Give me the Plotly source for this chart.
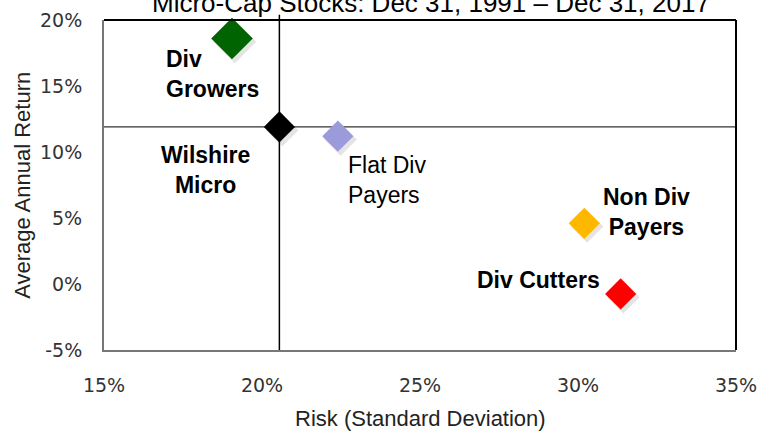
import plotly.graph_objects as go

# ---- data ----
names = ["Div Growers", "Wilshire Micro", "Flat Div Payers", "Non Div Payers", "Div Cutters"]
label_text = ["Div<br>Growers", "Wilshire<br>Micro", "Flat Div<br>Payers", "Non Div<br>Payers", "Div Cutters"]
risk = [19.05, 20.55, 22.4, 30.2, 31.35]          # % std dev
ret = [18.6, 11.9, 11.2, 4.6, -0.75]               # % average annual return
colors = ["#006400", "#000000", "#9B9BDB", "#FFB800", "#FF0000"]
sizes = [32, 24, 24, 24, 24]
x_ticks = [15, 20, 25, 30, 35]
y_ticks = [-5, 0, 5, 10, 15, 20]
title_text = "Micro-Cap Stocks: Dec 31, 1991 \u2013 Dec 31, 2017"

# label styling (pixel offsets from each point)
lab_bold = [True, True, False, True, True]
lab_xshift = [-68, -74, 8, 62, -82]
lab_yshift = [-36, -43, -44, 11, 14]
lab_xanchor = ["left", "center", "left", "center", "center"]
lab_align = ["left", "center", "left", "center", "center"]

bench = names.index("Wilshire Micro")

fig = go.Figure()

# soft shadows via slightly shifted overlay axes (x2/y2)
fig.add_trace(go.Scatter(
    x=risk, y=ret, mode="markers", xaxis="x2", yaxis="y2",
    marker=dict(symbol="diamond", size=[s + 1 for s in sizes], color="rgba(0,0,0,0.15)", line=dict(width=0)),
    hoverinfo="skip", showlegend=False, cliponaxis=False))

# main markers on unshifted overlay axes (x3/y3), drawn above shadows
fig.add_trace(go.Scatter(
    x=risk, y=ret, mode="markers", text=names, xaxis="x3", yaxis="y3", opacity=1,
    marker=dict(symbol="diamond", size=sizes, color=colors, opacity=1, line=dict(width=0)),
    showlegend=False, cliponaxis=False))

# reference lines through benchmark
fig.add_shape(type="line", xref="x", yref="paper", x0=risk[bench], x1=risk[bench], y0=0, y1=1.016,
              line=dict(color="black", width=1.5), layer="below")
fig.add_shape(type="line", xref="paper", yref="y", x0=0, x1=1, y0=ret[bench], y1=ret[bench],
              line=dict(color="#333333", width=1.2), layer="below")
# top/right frame
fig.add_shape(type="line", xref="paper", yref="paper", x0=0, x1=1, y0=1, y1=1,
              line=dict(color="black", width=2))
fig.add_shape(type="line", xref="paper", yref="paper", x0=1, x1=1, y0=0, y1=1,
              line=dict(color="black", width=2))

for i in range(len(names)):
    txt = f"<b>{label_text[i]}</b>" if lab_bold[i] else label_text[i]
    fig.add_annotation(x=risk[i], y=ret[i], xref="x", yref="y", text=txt, showarrow=False,
                       xanchor=lab_xanchor[i], yanchor="middle", align=lab_align[i],
                       xshift=lab_xshift[i], yshift=lab_yshift[i],
                       font=dict(family="Liberation Sans, Arial", size=23, color="black"))

# title (partially cut off at top)
fig.add_annotation(text=title_text, xref="paper", yref="paper", x=0.518, y=1.052, showarrow=False,
                   xanchor="center", yanchor="middle",
                   font=dict(family="Liberation Sans, Arial", size=26, color="black"))
# axis titles
fig.add_annotation(text="Risk (Standard Deviation)", xref="paper", yref="paper", x=0.5, y=-0.207,
                   showarrow=False, xanchor="center", yanchor="middle",
                   font=dict(family="Liberation Sans, Arial", size=22, color="#222222"))
fig.add_annotation(text="Average Annual Return", xref="paper", yref="paper", x=-0.13, y=0.5,
                   showarrow=False, xanchor="center", yanchor="middle", textangle=-90,
                   font=dict(family="Liberation Sans, Arial", size=22, color="#222222"))

axis_font = dict(family="DejaVu Sans", size=19, color="#333333")
fig.update_layout(
    width=764, height=431,
    margin=dict(l=104, r=28, t=20, b=81),
    paper_bgcolor="white", plot_bgcolor="white",
    xaxis=dict(range=[15, 35], tickvals=x_ticks, ticktext=[f"{v}%" for v in x_ticks],
               showgrid=False, zeroline=False, showline=True, linecolor="#777777", linewidth=2,
               ticks="", tickfont=axis_font, ticklabelstandoff=17, automargin=False),
    yaxis=dict(range=[-5, 20], tickvals=y_ticks, ticktext=[f"{v}%" for v in y_ticks],
               showgrid=False, zeroline=False, showline=True, linecolor="#777777", linewidth=2,
               ticks="", tickfont=axis_font, ticklabelstandoff=16, automargin=False),
    xaxis2=dict(range=[15 - 0.09, 35 - 0.09], overlaying="x", visible=False, automargin=False),
    yaxis2=dict(range=[-5 + 0.25, 20 + 0.25], overlaying="y", visible=False, anchor="x2", automargin=False),
    xaxis3=dict(range=[15, 35], overlaying="x", visible=False, automargin=False),
    yaxis3=dict(range=[-5, 20], overlaying="y", visible=False, anchor="x3", automargin=False),
)

fig.write_html("out.html", config={"displayModeBar": False},
               post_script="document.body.style.margin='0';document.body.style.overflow='hidden';")
